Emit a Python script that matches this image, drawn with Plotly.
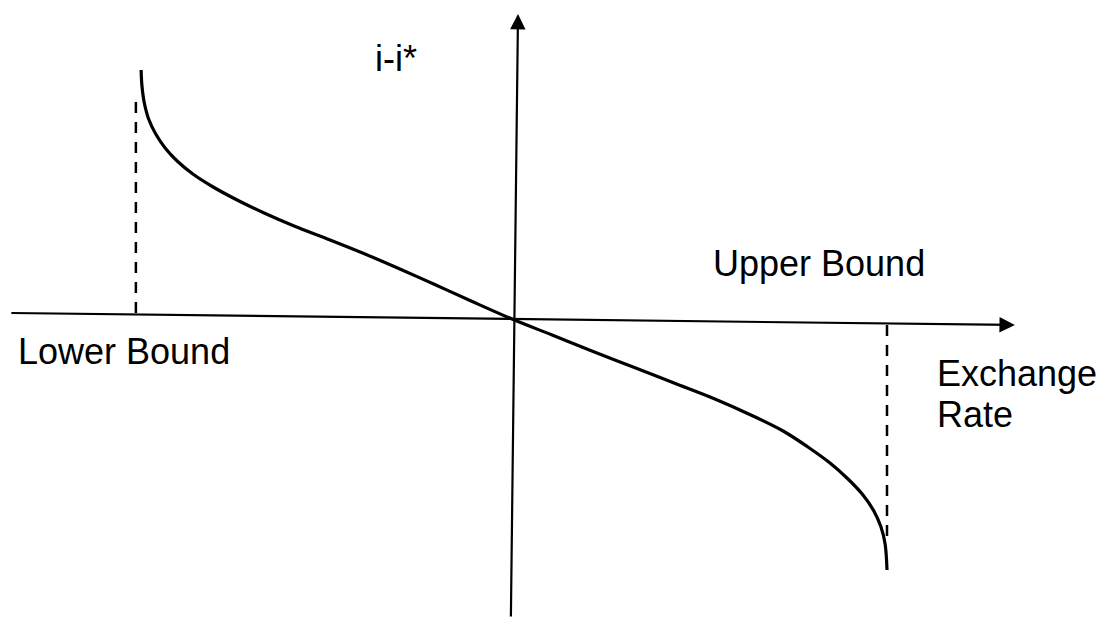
import plotly.graph_objects as go

# exchange rate (lower bound = -1, upper bound = +1) vs interest differential i-i*
curve_x = [-0.989, -0.987, -0.981, -0.969, -0.950, -0.925, -0.893, -0.851, -0.797, -0.733, -0.661, -0.581,
           -0.485, -0.392, -0.299, -0.203, -0.109, 0.0,
           0.107, 0.213, 0.323, 0.432, 0.541, 0.637, 0.723, 0.789, 0.848, 0.896, 0.936, 0.965, 0.984, 0.995, 1.0]
curve_y = [0.996, 0.936, 0.868, 0.800, 0.740, 0.684, 0.632, 0.580, 0.528, 0.476, 0.424, 0.372,
           0.316, 0.260, 0.200, 0.136, 0.072, 0.0,
           -0.064, -0.128, -0.192, -0.256, -0.320, -0.384, -0.448, -0.512, -0.576, -0.640, -0.704, -0.768,
           -0.832, -0.900, -1.004]

# bounds and the dashed drop lines
bound_x = [-1.003, 1.0]
bound_top = [0.024, -0.024]
bound_end = [0.87, -0.88]

# hand drawn axes (slightly tilted)
xaxis_start = (-1.339, 0.024)
xaxis_end = (1.341, -0.024)
yaxis_start = (-0.003, -1.196)
yaxis_end = (0.016, 1.22)

labels = ["i-i*", "Upper Bound", "Lower Bound", "Exchange", "Rate"]
label_x = [-0.37, 0.53, -1.323, 1.127, 1.127]
label_y = [1.044, 0.224, -0.128, -0.216, -0.38]

# the page body adds an 8px margin, so the figure starts at (8, 8)
W, H = 1097, 611
ORIGIN_PX = (504, 311)
X_UNIT, Y_UNIT = 375, 250

fig = go.Figure()

for bx, b0, b1 in zip(bound_x, bound_top, bound_end):
    fig.add_trace(go.Scatter(x=[bx, bx], y=[b0, b1], mode='lines',
                             line=dict(color='black', width=2.5, dash='11px,9px'),
                             hoverinfo='skip'))

fig.add_trace(go.Scatter(x=curve_x, y=curve_y, mode='lines',
                         line=dict(color='black', width=3.2, shape='spline', smoothing=1.0),
                         hoverinfo='skip'))

# axes drawn as arrows
for (x0, y0), (x1, y1) in [(xaxis_start, xaxis_end), (yaxis_start, yaxis_end)]:
    fig.add_annotation(x=x1, y=y1, ax=x0, ay=y0, xref='x', yref='y', axref='x', ayref='y',
                       text='', showarrow=True, arrowhead=2, arrowsize=1.4, arrowwidth=2.2,
                       arrowcolor='black', standoff=0)

for t, lx, ly in zip(labels, label_x, label_y):
    fig.add_annotation(x=lx, y=ly, xref='x', yref='y', text=t, showarrow=False,
                       xanchor='left', yanchor='middle',
                       font=dict(family='Liberation Sans, Arial', size=36, color='black'))

fig.update_layout(
    width=W, height=H,
    margin=dict(l=0, r=0, t=0, b=0),
    paper_bgcolor='white', plot_bgcolor='white',
    showlegend=False,
    xaxis=dict(range=[-ORIGIN_PX[0] / X_UNIT, (W - ORIGIN_PX[0]) / X_UNIT], visible=False, fixedrange=True),
    yaxis=dict(range=[-(H - ORIGIN_PX[1]) / Y_UNIT, ORIGIN_PX[1] / Y_UNIT], visible=False, fixedrange=True),
)

fig.write_html("out.html")
